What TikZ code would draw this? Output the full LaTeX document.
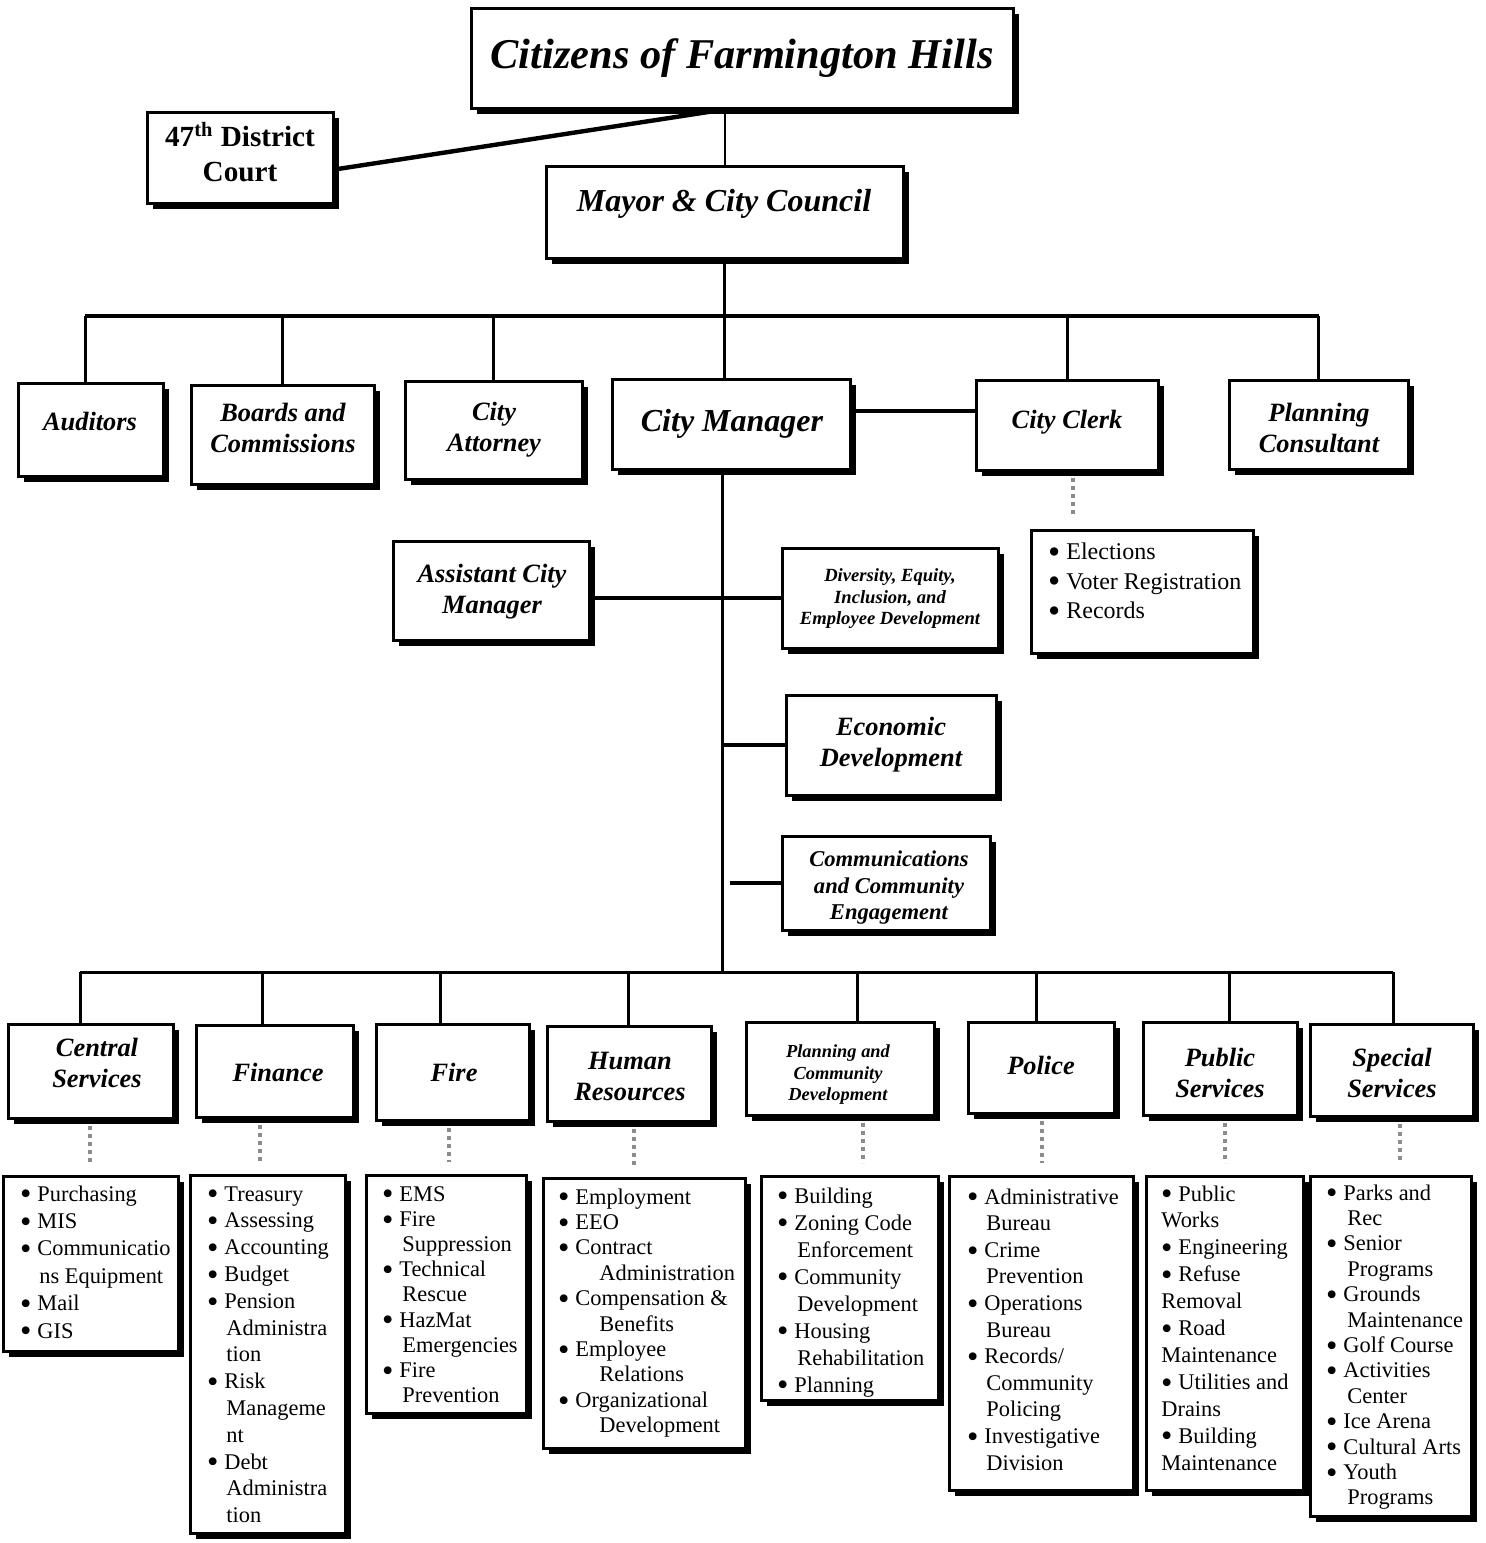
\documentclass[tikz,border=0pt]{standalone}
\usepackage{fontspec}
\setmainfont{Liberation Serif}
\usetikzlibrary{shadows,calc}
\newcommand\bu{\makebox[0pt][r]{\raisebox{-1.9pt}[0pt][0pt]{\scalebox{1.45}{\textbullet}}\hspace{3pt}}}
\newcommand\bx[5]{%
  \pgfmathsetmacro\bxw{(#3-#1)*0.5}\pgfmathsetmacro\bxh{(#4-#2)*0.5}%
  \node[box,minimum width=\bxw pt,minimum height=\bxh pt] (#5) at ({(#1+#3)/2},{(#2+#4)/2}) {};}
\tikzset{
  box/.style={draw,line width=1.5pt,fill=white,inner sep=0pt,
    drop shadow={shadow xshift=3.2pt,shadow yshift=-3.2pt,fill=black,opacity=1}},
  ttl/.style={font=\bfseries\itshape\fontsize{13.2}{15.5}\selectfont,align=center,inner sep=0pt},
  lst/.style={anchor=base west,inner sep=0pt},
  thinln/.style={line width=1pt},
  medln/.style={line width=1.5pt},
  heavyln/.style={line width=2.2pt},
  dotln/.style={line width=2pt,draw=black!45,dash pattern=on 2pt off 2pt,shorten <=3pt,shorten >=6pt},
}
\begin{document}
\begin{tikzpicture}[x=0.5pt,y=-0.5pt]
\useasboundingbox (0,0) rectangle (1486,1543);
% boxes
\bx{471}{8}{1013}{108}{cit}
\bx{147}{112}{333}{203}{court}
\bx{546}{166}{903}{258}{mayor}
\bx{18}{383}{163}{476}{aud}
\bx{191}{385}{374}{484}{brd}
\bx{405}{381}{582}{479}{att}
\bx{612}{379}{850}{469}{cm}
\bx{976}{380}{1158}{470}{clerk}
\bx{1229}{380}{1408}{469}{pc}
\bx{1031}{530}{1253}{653}{clerkl}
\bx{393}{541}{589}{640}{acm}
\bx{782}{548}{998}{648}{dei}
\bx{786}{695}{996}{795}{econ}
\bx{782}{836}{990}{930}{comm}
\bx{8}{1024}{173}{1118}{cs}
\bx{196}{1025}{353}{1117}{fin}
\bx{376}{1024}{529}{1120}{fire}
\bx{547}{1026}{711}{1121}{hr}
\bx{746}{1022}{934}{1115}{pcd}
\bx{968}{1022}{1114}{1113}{pol}
\bx{1143}{1022}{1297}{1115}{ps}
\bx{1310}{1024}{1473}{1116}{ss}
\bx{3}{1176}{178}{1351}{csl}
\bx{190}{1175}{345}{1533}{finl}
\bx{366}{1175}{526}{1413}{firel}
\bx{543}{1178}{745}{1448}{hrl}
\bx{761}{1176}{938}{1400}{pcdl}
\bx{949}{1176}{1133}{1490}{poll}
\bx{1146}{1176}{1303}{1490}{psl}
\bx{1310}{1176}{1471}{1516}{ssl}
% coordinates
\coordinate (bar1) at (725,316);
\coordinate (spine) at (722,972);
\coordinate (d-cs) at (80,972);
\coordinate (d-fin) at (262,972);
\coordinate (d-fire) at (440,972);
\coordinate (d-hr) at (628,972);
\coordinate (d-pcd) at (857,972);
\coordinate (d-pol) at (1036,972);
\coordinate (d-ps) at (1229,972);
\coordinate (d-ss) at (1393,972);
\coordinate (k-clerk) at (1073,0);
\coordinate (k-cs) at (90,0);
\coordinate (k-fin) at (260,0);
\coordinate (k-fire) at (449,0);
\coordinate (k-hr) at (634,0);
\coordinate (k-pcd) at (863,0);
\coordinate (k-pol) at (1042,0);
\coordinate (k-ps) at (1225,0);
\coordinate (k-ss) at (1400,0);
% connectors
\draw[thinln] (mayor.north |- cit.south) -- (mayor.north);
\draw[heavyln] (mayor.north |- cit.south) -- ([yshift=-6pt]court.east);
\draw[medln] (mayor.south) -- (mayor.south |- cm.north);
\draw[heavyln] ([xshift=-2.75pt]aud.north |- bar1) -- (pc.north |- bar1);
\draw[medln] ([xshift=-2.75pt]aud.north) -- ([xshift=-2.75pt]aud.north |- bar1);
\foreach \n in {brd,att,clerk,pc} \draw[medln] (\n.north) -- (\n.north |- bar1);
\draw[heavyln] ([yshift=6.5pt]cm.east) -- ([yshift=6.5pt]cm.east -| clerk.west);
\draw[dotln] (k-clerk |- clerk.south) -- (k-clerk |- clerkl.north);
\draw[medln] (cm.south -| spine) -- (spine);
\draw[heavyln] (dei.west -| acm.east) -- (dei.west);
\draw[heavyln] (econ.west -| spine) -- (econ.west);
\draw[heavyln] ($(spine |- comm.west)+(8,0)$) -- (comm.west);
\draw[medln] (d-cs) -- (d-ss);
\foreach \n in {cs,fin,fire,hr,pcd,pol,ps,ss} {
  \draw[medln] (d-\n) -- (d-\n |- \n.north);
  \draw[dotln] (k-\n |- \n.south) -- (k-\n |- \n l.north);
}
% titles
\node[ttl,font=\bfseries\itshape\fontsize{21.2}{25}\selectfont] (cit-t) at (742,58) {Citizens of Farmington Hills};
\node[font=\bfseries\fontsize{14.6}{17.5}\selectfont,align=center,inner sep=0pt] (court-t) at (240,152) {47\textsuperscript{th} District\\Court};
\node[ttl,font=\bfseries\itshape\fontsize{16}{18}\selectfont] (mayor-t) at (724,204) {Mayor \& City Council};
\node[ttl] (aud-t) at (90,421) {Auditors};
\node[ttl] (brd-t) at (283,428) {Boards and\\Commissions};
\node[ttl] (att-t) at (494,430) {City\\Attorney};
\node[ttl,font=\bfseries\itshape\fontsize{16}{18}\selectfont] (cm-t) at (732,424) {City Manager};
\node[ttl] (clerk-t) at (1067,422) {City Clerk};
\node[ttl] (pc-t) at (1319,428) {Planning\\Consultant};
\node[ttl] (acm-t) at (492,592) {Assistant City\\Manager};
\node[ttl,font=\bfseries\itshape\fontsize{9.3}{10.75}\selectfont] (dei-t) at (890,599) {Diversity, Equity,\\Inclusion, and\\Employee Development};
\node[ttl] (econ-t) at (891,745) {Economic\\Development};
\node[ttl,font=\bfseries\itshape\fontsize{11.3}{13.25}\selectfont] (comm-t) at (889,888) {Communications\\and Community\\Engagement};
\node[ttl] (cs-t) at (97,1063) {Central\\Services};
\node[ttl] (fin-t) at (278,1072) {Finance};
\node[ttl] (fire-t) at (454,1072) {Fire};
\node[ttl] (hr-t) at (630,1076) {Human\\Resources};
\node[ttl,font=\bfseries\itshape\fontsize{9.2}{10.75}\selectfont] (pcd-t) at (838,1075) {Planning and\\Community\\Development};
\node[ttl] (pol-t) at (1041,1065) {Police};
\node[ttl] (ps-t) at (1220,1073) {Public\\Services};
\node[ttl] (ss-t) at (1392,1073) {Special\\Services};
% lists
\node[lst] (clerkl-t) at (1066,559.5) {\parbox[t]{200pt}{\fontsize{12}{14.75}\selectfont
\bu Elections\\\bu Voter Registration\\\bu Records}};
\node[lst] (csl-t) at (37,1201) {\parbox[t]{200pt}{\fontsize{11.2}{13.7}\selectfont
\bu Purchasing\\\bu MIS\\\bu Communicatio\\\hspace*{1pt}ns Equipment\\\bu Mail\\\bu GIS}};
\node[lst] (finl-t) at (224,1201) {\parbox[t]{200pt}{\fontsize{11.2}{13.4}\selectfont
\bu Treasury\\\bu Assessing\\\bu Accounting\\\bu Budget\\\bu Pension\\\hspace*{1pt}Administra\\\hspace*{1pt}tion\\\bu Risk\\\hspace*{1pt}Manageme\\\hspace*{1pt}nt\\\bu Debt\\\hspace*{1pt}Administra\\\hspace*{1pt}tion}};
\node[lst] (firel-t) at (399,1201) {\parbox[t]{200pt}{\fontsize{11.2}{12.6}\selectfont
\bu EMS\\\bu Fire\\\hspace*{1.5pt}Suppression\\\bu Technical\\\hspace*{1.5pt}Rescue\\\bu HazMat\\\hspace*{1.5pt}Emergencies\\\bu Fire\\\hspace*{1.5pt}Prevention}};
\node[lst] (hrl-t) at (575,1204) {\parbox[t]{200pt}{\fontsize{11.2}{12.7}\selectfont
\bu Employment\\\bu EEO\\\bu Contract\\\hspace*{12pt}Administration\\\bu Compensation \&\\\hspace*{12pt}Benefits\\\bu Employee\\\hspace*{12pt}Relations\\\bu Organizational\\\hspace*{12pt}Development}};
\node[lst] (pcdl-t) at (794,1203) {\parbox[t]{200pt}{\fontsize{11.2}{13.5}\selectfont
\bu Building\\\bu Zoning Code\\\hspace*{1.5pt}Enforcement\\\bu Community\\\hspace*{1.5pt}Development\\\bu Housing\\\hspace*{1.5pt}Rehabilitation\\\bu Planning}};
\node[lst] (poll-t) at (984,1204) {\parbox[t]{200pt}{\fontsize{11.2}{13.3}\selectfont
\bu Administrative\\\hspace*{1pt}Bureau\\\bu Crime\\\hspace*{1pt}Prevention\\\bu Operations\\\hspace*{1pt}Bureau\\\bu Records/\\\hspace*{1pt}Community\\\hspace*{1pt}Policing\\\bu Investigative\\\hspace*{1pt}Division}};
\node[lst] (psl-t) at (1178,1201) {\parbox[t]{200pt}{\fontsize{11.2}{13.45}\selectfont
\bu Public\\\hspace*{-8.5pt}Works\\\bu Engineering\\\bu Refuse\\\hspace*{-8.5pt}Removal\\\bu Road\\\hspace*{-8.5pt}Maintenance\\\bu Utilities and\\\hspace*{-8.5pt}Drains\\\bu Building\\\hspace*{-8.5pt}Maintenance}};
\node[lst] (ssl-t) at (1343,1200) {\parbox[t]{200pt}{\fontsize{11.2}{12.7}\selectfont
\bu Parks and\\\hspace*{2pt}Rec\\\bu Senior\\\hspace*{2pt}Programs\\\bu Grounds\\\hspace*{2pt}Maintenance\\\bu Golf Course\\\bu Activities\\\hspace*{2pt}Center\\\bu Ice Arena\\\bu Cultural Arts\\\bu Youth\\\hspace*{2pt}Programs}};
\end{tikzpicture}
\end{document}
